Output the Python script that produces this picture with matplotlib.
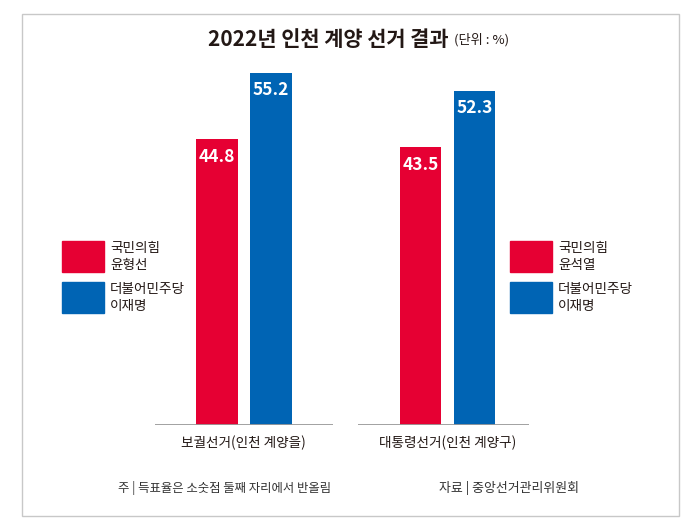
import matplotlib
matplotlib.use("Agg")
import matplotlib.pyplot as plt
from matplotlib.patches import Rectangle
import numpy as np

plt.rcParams['font.family'] = ['Noto Sans CJK KR', 'DejaVu Sans']

# ---- data ----
categories = ['보궐선거(인천 계양을)', '대통령선거(인천 계양구)']
ppp_values = [44.8, 43.5]      # 국민의힘
dem_values = [55.2, 52.3]      # 더불어민주당
left_legend = ['국민의힘\n윤형선', '더불어민주당\n이재명']
right_legend = ['국민의힘\n윤석열', '더불어민주당\n이재명']
title = '2022년 인천 계양 선거 결과'
unit = '(단위 : %)'
note = '주 | 득표율은 소숫점 둘째 자리에서 반올림'
source = '자료 | 중앙선거관리위원회'

RED = '#E60033'
BLUE = '#0064B4'
DARK = '#231815'

W, H = 700, 529
fig = plt.figure(figsize=(W / 100, H / 100), dpi=100)

def fx(x):
    return x / W

def fy(y):
    return 1 - y / H

# axes: y=0 at px 425, 6.38 px per unit
y0_px = 425
ppu = 6.38
ymax = 60
ax_h_px = ymax * ppu
ax = fig.add_axes([0, fy(y0_px), 1, ax_h_px / H])
ax.set_ylim(0, ymax)
g0, g1 = 243.75, 447.5
sp = g1 - g0
ax.set_xlim(-g0 / sp, (W - g0) / sp)
ax.axis('off')

x = np.arange(len(categories))
bw = 41.5 / sp
off = 27 / sp
ax.bar(x - off, ppp_values, bw, color=RED, zorder=2)
ax.bar(x + off, dem_values, bw, color=BLUE, zorder=2)

for xi, v in zip(x - off, ppp_values):
    ax.annotate(f'{v:.1f}', (xi, v), xytext=(0, -12.8), textcoords='offset points',
                ha='center', va='center', color='white', fontsize=12.5, fontweight='bold')
for xi, v in zip(x + off, dem_values):
    ax.annotate(f'{v:.1f}', (xi, v), xytext=(0, -12.2), textcoords='offset points',
                ha='center', va='center', color='white', fontsize=12.5, fontweight='bold')

# baselines
ax.hlines([0, 0], [-0.438, 1 - 0.44], [0.438, 1 + 0.40], color='#9a9a9a', lw=1.3, zorder=3)

# category labels
for xi, c in zip(x, categories):
    ax.annotate(c, (xi, 0), xytext=(0, -13), textcoords='offset points',
                ha='center', va='center', fontsize=9.8, color=DARK, fontweight='medium')

# border
fig.patches.append(Rectangle((fx(22), fy(516)), fx(679) - fx(22), fy(14) - fy(516),
                             transform=fig.transFigure, fill=False, ec='#c8c8c8', lw=1))

# title
t = fig.text(fx(208), fy(39), title, ha='left', va='center', fontsize=15,
             fontweight='bold', color=DARK)
fig.canvas.draw()
bb = t.get_window_extent(fig.canvas.get_renderer())
fig.text((bb.x1 + 6) / W, fy(40), unit, ha='left', va='center', fontsize=9.5, color=DARK)

# legends
def legend(x0, labels, colors):
    tops = [241, 282]
    for tp, lab, col in zip(tops, labels, colors):
        fig.patches.append(Rectangle((fx(x0), fy(tp + 31)), fx(42), 31 / H,
                                     transform=fig.transFigure, color=col))
        fig.text(fx(x0 + 48), fy(tp + 15.5), lab, ha='left', va='center',
                 fontsize=9.8, color=DARK, linespacing=1.2)

legend(62, left_legend, [RED, BLUE])
legend(510, right_legend, [RED, BLUE])

# footnotes
fig.text(fx(225), fy(488), note, ha='center', va='center', fontsize=8.9, color='#333333')
fig.text(fx(509), fy(488), source, ha='center', va='center', fontsize=9.3, color='#333333')

fig.savefig('out.png', dpi=100)
